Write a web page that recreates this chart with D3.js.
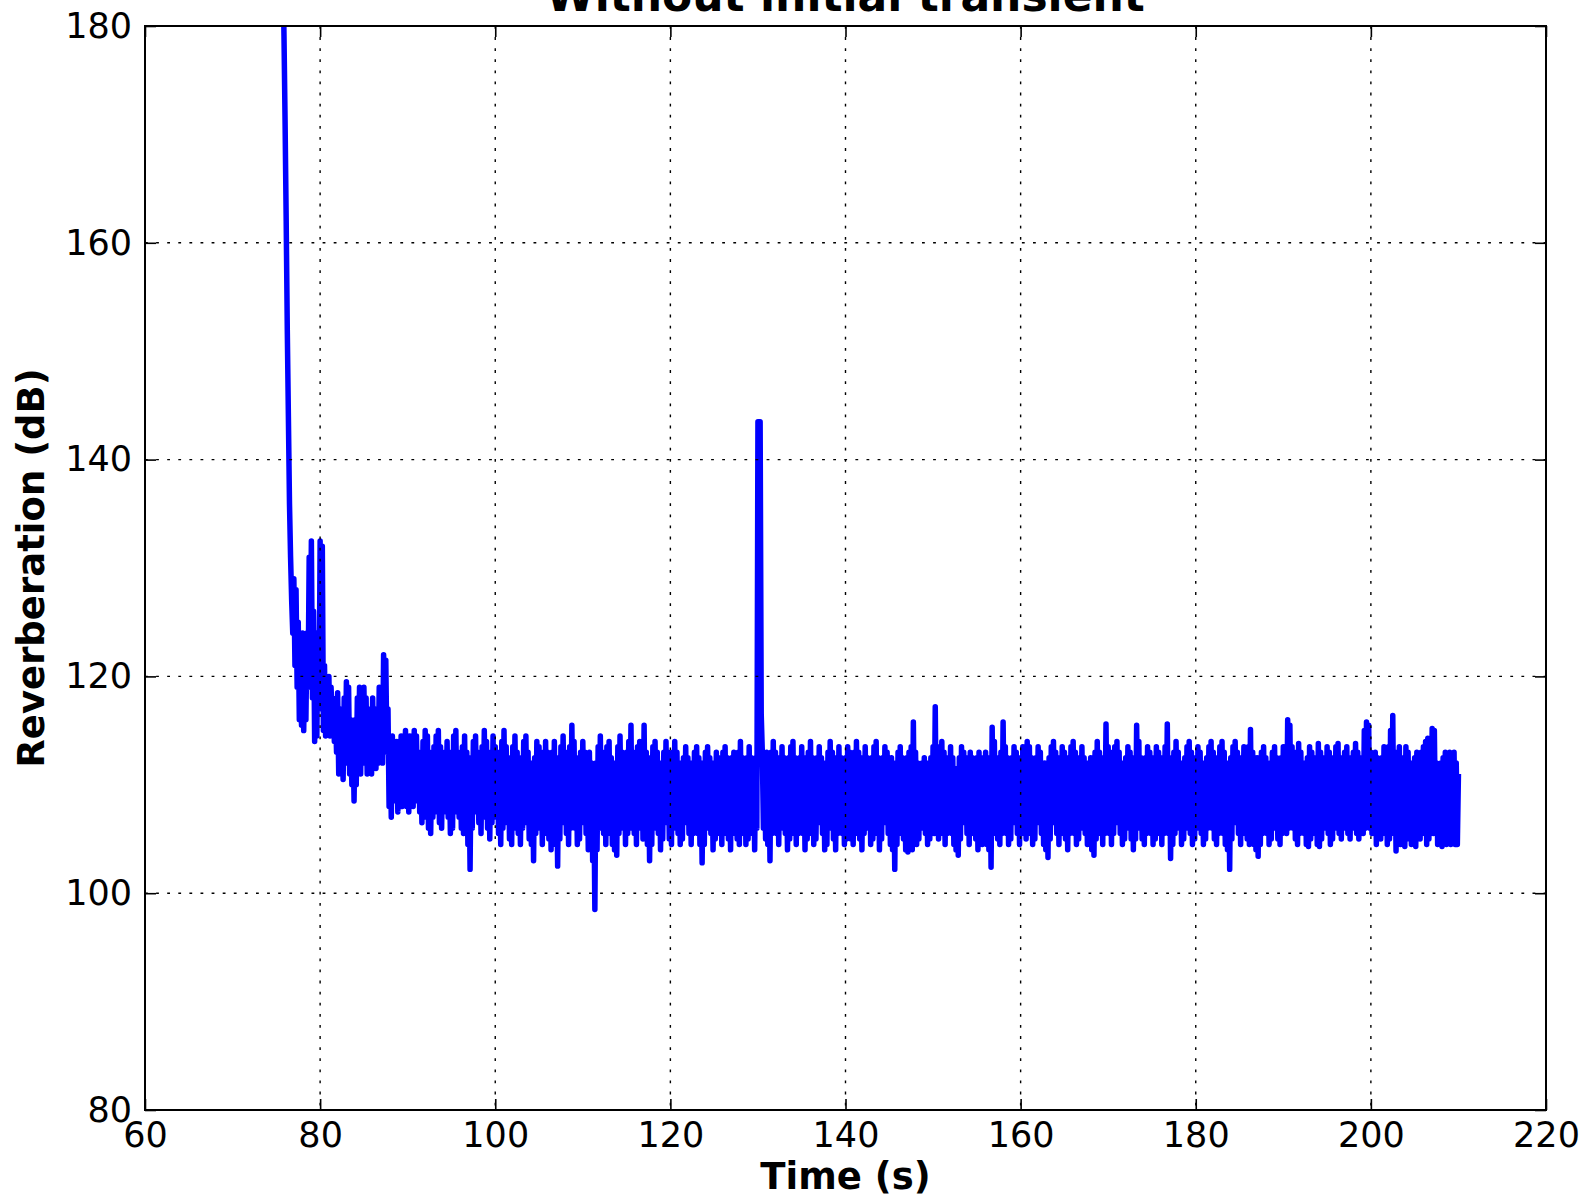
<!DOCTYPE html>
<html>
<head>
<meta charset="utf-8">
<script src="https://cdn.jsdelivr.net/npm/d3@7"></script>
<style>
  body { margin: 0; background: #fff; }
  text { font-family: "DejaVu Sans", sans-serif; fill: #000; }
</style>
</head>
<body>
<div id="chart"></div>
<script>
// sampling of the reverberation trace (s)
const startTime = 75.75,
      endTime = 210.0;

const reverb = [
  186, 179, 171, 162, 152, 144, 136, 131, 127, 124, 129, 121, 128, 119, 125, 116, 123.5, 115.5, 124, 115, 122, 116, 124, 119, 131, 121, 132.5, 118, 126, 114, 121, 114.5, 124, 117, 132.5, 118, 132, 115, 121, 114.5,
  119, 115, 120, 114.5, 119, 116, 118, 114, 117, 113, 118.5, 111, 116, 112, 117, 110.5, 118, 112, 119.5, 113, 119, 111, 116, 110, 115, 108.5, 116, 110, 118, 112, 119, 111, 117, 112, 119, 113, 118, 111, 116, 112,
  117, 111, 118, 112, 116, 111.5, 117, 112, 119, 113, 118, 112, 122, 117, 121.5, 113, 117, 108, 114, 107, 114.5, 108.5, 113.5, 109, 114, 107.5, 113, 108, 114.5, 108, 114, 110, 115, 108, 113, 107.5, 114.5, 109, 113, 108,
  115, 108.5, 114.5, 109, 113, 107.5, 112.5, 106.5, 114, 107, 115, 108, 114.5, 106, 113, 105.5, 112, 107, 113.5, 108.5, 114.5, 107.5, 115, 106.5, 113.5, 106, 112.5, 107.5, 113, 108, 114, 107, 112, 105.5, 113, 106, 114.5, 108, 115, 107.5,
  113, 107, 112, 106, 113.5, 105.5, 114.5, 106.5, 113, 104.5, 111, 102.2, 112.5, 106, 114, 107.5, 114.5, 108, 113, 106.5, 112, 105.5, 113.5, 107, 115, 107.5, 114, 106, 112.5, 105, 113, 106.5, 114.5, 108, 113.5, 107, 112, 105.5, 113, 104.5,
  114, 106, 115, 107.5, 113.5, 106.5, 112, 105, 112.5, 104.5, 113.5, 106, 114.5, 107, 113, 105.5, 111.5, 104.5, 112.5, 106, 114, 107.5, 114.5, 106.5, 113, 105, 112, 104.5, 111, 103, 112.5, 105.5, 114, 107, 113.5, 106, 112, 104.5, 113, 105.5,
  114, 106.5, 113, 105, 112, 104, 113, 105.5, 114, 104.5, 111.5, 102.5, 112.5, 105, 113.5, 106.5, 114.5, 107, 113, 105.5, 112, 104.5, 113.5, 106, 115.5, 107, 114, 106, 112.5, 104.5, 111.5, 105, 113, 106.5, 114, 107.5, 113, 105.5, 112, 104,
  113, 105, 112, 103, 110, 98.5, 112, 104, 113.5, 106, 114.5, 107, 113, 105.5, 112, 104.5, 113.5, 106.5, 114, 105.5, 112.5, 104.5, 111.5, 104, 112, 103.5, 113.5, 105.5, 114.5, 107, 113, 106, 112, 104.5, 113, 105.5, 114, 106.5, 115.5, 106,
  113, 105.5, 112, 104.5, 113.5, 106, 114, 107, 112.5, 105, 115.5, 105.5, 113, 104.5, 112, 103, 112.5, 104.5, 113.5, 106, 114, 107, 113, 105.5, 112, 104, 111.5, 105, 113, 106.5, 114, 107, 113, 105, 112, 104.5, 113, 106, 114, 106.5,
  113, 105.5, 112, 104.5, 111.5, 105, 112.5, 106.5, 113.5, 107, 112.5, 105.5, 111.5, 104.5, 112, 105.5, 113, 106.5, 113.5, 105.5, 112.5, 104.5, 111, 102.8, 112, 104.5, 113, 106, 113.5, 107, 112.5, 105.5, 111.5, 104, 112, 105, 113, 106.5, 112.5, 105.5,
  112, 104.5, 113, 105.5, 113.5, 106.5, 112.5, 105, 111.5, 104, 112.5, 105.5, 113, 106.5, 112, 105, 113, 104.5, 114, 106, 112.5, 105.5, 111.5, 104.5, 112.5, 105, 113.5, 106.5, 112.5, 105.5, 111.5, 104, 112.5, 106, 143.5, 143.5, 143.5, 116.5, 113, 106,
  112.5, 105, 113, 104.5, 112, 103, 113, 105.5, 114, 106.5, 113, 105.5, 111.5, 104.5, 112.5, 106, 113.5, 107, 112.5, 105.5, 111.5, 104, 112.5, 105, 113.5, 106.5, 114, 105.5, 112.5, 104.5, 111.5, 105.5, 112.5, 106.5, 113.5, 105.5, 112.5, 104, 112, 105,
  113, 106, 114, 105.5, 112.5, 104.5, 111.5, 105, 112.5, 106.5, 113.5, 107, 112.5, 105.5, 111.5, 104, 112, 104.5, 113, 106, 114, 106.5, 113, 105, 111.5, 104, 112.5, 105.5, 113.5, 106.5, 112.5, 105.5, 111.5, 104.5, 112.5, 105, 113.5, 106, 113, 105,
  112, 104.5, 113, 105.5, 114, 106.5, 113, 105, 111.5, 104, 112.5, 105.5, 113.5, 107, 112.5, 106, 111.5, 104.5, 112.5, 105, 113.5, 106, 114, 105.5, 112.5, 104, 111.5, 105, 112.5, 106.5, 113.5, 107, 113, 105.5, 112, 104.5, 112.5, 104, 111, 102.2,
  112, 104.5, 113, 105.5, 113.5, 106.5, 112.5, 105, 111.5, 104, 112.5, 103.8, 113, 104.5, 113.5, 104, 115.8, 105.5, 113, 104.5, 112, 105, 111.5, 106, 112, 106.5, 112.5, 105.5, 112, 104.5, 111.5, 105, 112.5, 106, 113.5, 105.5, 117.2, 106, 113.5, 105,
  113.5, 106, 114, 105.5, 113, 104.5, 112, 105.5, 112.5, 106.5, 113.5, 105.5, 112.5, 104.5, 111.5, 104, 111, 103.5, 112.5, 105, 113.5, 106.5, 113, 107, 112, 105.5, 112.5, 104.5, 113, 105.5, 112.5, 106.5, 112, 105, 112.5, 104, 113, 105, 112.5, 104.5,
  112.5, 105, 113, 104.5, 112, 104, 112.5, 102.4, 115.3, 105.5, 114, 106, 112.5, 105, 112, 104.5, 113, 105.5, 115.8, 106.5, 113.5, 105.5, 112.5, 104.5, 111.5, 105, 112.5, 106.5, 113.5, 107, 113, 105.5, 112, 104.5, 112.5, 105.5, 113.5, 106.5, 112.5, 105,
  114, 106, 113.5, 105.5, 112.5, 104.5, 111.5, 105, 112.5, 106.5, 113.5, 107, 113, 105.5, 112, 104.5, 112, 104, 111.5, 103.3, 112.5, 105, 113.5, 106.5, 114, 107, 113, 105.5, 112, 104.5, 112.5, 105.5, 113.5, 106.5, 113, 105, 112, 104, 112.5, 105.5,
  113.5, 106.5, 114, 105.5, 113, 104.5, 112, 105, 112.5, 106, 113.5, 107, 112.5, 105.5, 111.5, 104.5, 112, 105, 112.5, 104, 112, 103.5, 113, 105, 114, 106.5, 113, 105.5, 112, 104.5, 112.5, 105.5, 115.6, 106.5, 113.5, 105.5, 112.5, 104.5, 113, 105.5,
  113.5, 106.5, 114, 107, 113, 105.5, 112, 104.5, 111.5, 105, 112.5, 106, 113.5, 106.5, 113, 105, 112, 104, 112.5, 105, 115.5, 106.5, 114, 106, 112.5, 105, 111.5, 104.5, 112.5, 105.5, 113.5, 106.5, 113, 105.5, 112, 104.5, 112.5, 105, 113.5, 106,
  113, 105.5, 112, 104.5, 112.5, 105.5, 113.5, 106, 115.6, 105.5, 112.5, 103.2, 112, 104.5, 113, 105.5, 114, 107, 113, 106, 112, 104.5, 111.5, 105, 112.5, 106, 113.5, 106.5, 114, 105.5, 113, 104.5, 112, 105, 112.5, 106, 113.5, 107, 113, 105.5,
  112, 104.5, 111.5, 105, 112.5, 106, 113.5, 107, 114, 106, 113, 105, 112, 104.5, 112.5, 105.5, 113.5, 106.5, 114, 105.5, 113, 104.5, 112, 104, 111, 102.2, 112.5, 105, 113.5, 106.5, 114, 107, 113, 105.5, 112, 104.5, 112.5, 105.5, 113.5, 106,
  113, 105, 113.5, 104.5, 115.1, 105.5, 113, 104.5, 112, 104, 112.5, 103.4, 112, 104.5, 113, 105.5, 113.5, 106.5, 112.5, 105.5, 111.5, 104.5, 112, 105, 113, 106, 113.5, 106.5, 112.5, 105, 111.5, 104.5, 112.5, 105.5, 113.5, 106.5, 113, 105.5, 116, 106,
  115.5, 107, 113.5, 106, 112.5, 105, 113, 104.5, 113.8, 105.5, 113, 106.5, 112, 105.5, 111.5, 104.5, 112.5, 104.3, 113.5, 105, 113, 106, 112, 105.5, 112.5, 104.5, 113.8, 104.3, 113, 105, 112, 106, 112.5, 106.5, 113.5, 105.5, 113, 104.5, 112, 105,
  112.5, 106, 113.5, 106.5, 113.8, 105.5, 112.5, 105, 112, 106, 113, 106.5, 113.5, 105.5, 112.5, 105, 112, 106, 113, 106.5, 113.8, 105.5, 113, 105, 112, 106, 112.5, 105.5, 115, 106, 115.8, 107, 115.5, 106, 113, 105.5, 112, 106, 113, 104.5,
  112.5, 106, 112, 105, 112.5, 105.5, 113.5, 106, 113, 104.5, 113.5, 105, 115, 106, 116.4, 105.5, 112.5, 103.9, 113, 105, 113.5, 104.5, 112.5, 105.5, 112, 104.3, 113.5, 105, 113, 105.5, 112, 104.5, 111.5, 105, 112.5, 104.3, 113, 105.5, 112, 105,
  113, 105.5, 113.5, 106, 114, 104.5, 114.3, 105, 112.5, 106, 115.2, 105.5, 115, 106, 112, 104.5, 111.5, 105, 112, 104.3, 112.5, 105, 113, 104.5, 112.5, 105.5, 113, 104.5, 112.5, 105, 113, 104.5, 112, 104.5, 111
];

const xTicks = [60, 80, 100, 120, 140, 160, 180, 200, 220];
const yTicks = [80, 100, 120, 140, 160, 180];

const titleText = "Without initial transient",
      xLabel = "Time (s)",
      yLabel = "Reverberation (dB)";

const W = 1581, H = 1199;
const margin = {top: 26, right: 35, bottom: 89, left: 145},
      width = W - margin.left - margin.right,
      height = H - margin.top - margin.bottom;

const tickLen = 11,
      tickFont = 35,
      labelFont = 37;

const sampleStep = (endTime - startTime) / (reverb.length - 1);

const svg = d3.select("#chart").append("svg")
  .attr("width", W)
  .attr("height", H)
  .style("display", "block");

svg.append("rect")
  .attr("width", W)
  .attr("height", H)
  .attr("fill", "#fff");

const g = svg.append("g")
  .attr("transform", "translate(" + margin.left + "," + margin.top + ")");

const x = d3.scaleLinear()
  .domain([60, 220])
  .range([0, width]);

const y = d3.scaleLinear()
  .domain([80, 180])
  .range([height, 0]);

g.append("clipPath")
  .attr("id", "plot-clip")
  .append("rect")
    .attr("width", width)
    .attr("height", height);

const line = d3.line()
  .x(function(d, i){
    return x(startTime + i * sampleStep);
  })
  .y(function(d){
    return y(d);
  });

g.append("path")
  .datum(reverb)
  .attr("clip-path", "url(#plot-clip)")
  .attr("fill", "none")
  .attr("stroke", "#0000ff")
  .attr("stroke-width", 5.5)
  .attr("stroke-linejoin", "round")
  .attr("d", line);

// dotted grid, drawn on top of the trace like matplotlib classic
const grid = g.append("g")
  .attr("class", "grid")
  .attr("stroke", "#000")
  .attr("stroke-width", 1.4)
  .attr("stroke-dasharray", "2.8,8.3");

grid.selectAll(".vgrid")
  .data(xTicks.slice(1, -1))
  .join("line")
    .attr("class", "vgrid")
    .attr("x1", function(d){ return x(d); })
    .attr("x2", function(d){ return x(d); })
    .attr("y1", 0)
    .attr("y2", height);

grid.selectAll(".hgrid")
  .data(yTicks.slice(1, -1))
  .join("line")
    .attr("class", "hgrid")
    .attr("x1", 0)
    .attr("x2", width)
    .attr("y1", function(d){ return y(d); })
    .attr("y2", function(d){ return y(d); });

// axes with inward ticks on all four sides
const xAxis = d3.axisBottom(x)
  .tickValues(xTicks)
  .tickSize(-tickLen)
  .tickPadding(12)
  .tickFormat(d3.format("d"));

const yAxis = d3.axisLeft(y)
  .tickValues(yTicks)
  .tickSize(-tickLen)
  .tickPadding(13)
  .tickFormat(d3.format("d"));

g.append("g")
  .attr("class", "x axis")
  .attr("transform", "translate(0," + height + ")")
  .call(xAxis);

g.append("g")
  .attr("class", "y axis")
  .call(yAxis);

g.append("g")
  .attr("class", "top axis")
  .call(d3.axisTop(x).tickValues(xTicks).tickSize(-tickLen).tickFormat(""));

g.append("g")
  .attr("class", "right axis")
  .attr("transform", "translate(" + width + ",0)")
  .call(d3.axisRight(y).tickValues(yTicks).tickSize(-tickLen).tickFormat(""));

g.selectAll(".axis .domain").remove();

g.selectAll(".axis .tick line")
  .attr("stroke", "#000")
  .attr("stroke-width", 1.6);

g.selectAll(".axis text")
  .style("font-family", "'DejaVu Sans', sans-serif")
  .style("font-size", tickFont + "px")
  .attr("fill", "#000");

g.append("rect")
  .attr("width", width)
  .attr("height", height)
  .attr("fill", "none")
  .attr("stroke", "#000")
  .attr("stroke-width", 2);

// labels
svg.append("text")
  .attr("x", margin.left + width / 2)
  .attr("y", 1189)
  .attr("text-anchor", "middle")
  .style("font-size", labelFont + "px")
  .style("font-weight", "bold")
  .text(xLabel);

svg.append("text")
  .attr("transform", "translate(44," + (margin.top + height / 2) + ") rotate(-90)")
  .attr("text-anchor", "middle")
  .style("font-size", labelFont + "px")
  .style("font-weight", "bold")
  .text(yLabel);

svg.append("text")
  .attr("x", margin.left + width / 2)
  .attr("y", 11)
  .attr("text-anchor", "middle")
  .style("font-size", "44px")
  .style("font-weight", "bold")
  .text(titleText);
</script>
</body>
</html>
